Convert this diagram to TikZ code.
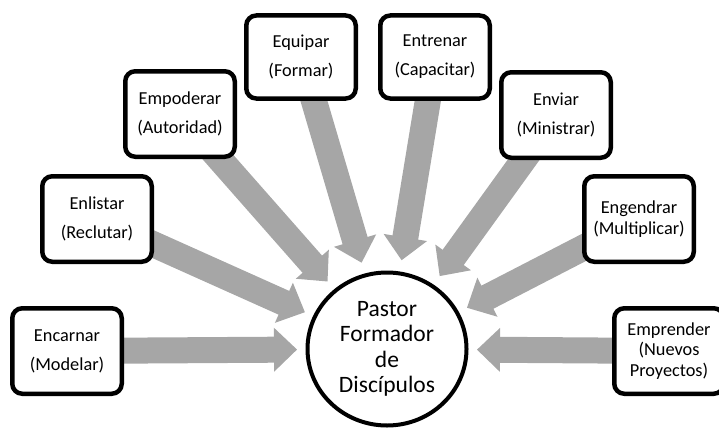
\documentclass[tikz,border=0pt]{standalone}
\usepackage{fontspec}
\setmainfont{Carlito}
\usetikzlibrary{calc,backgrounds,shapes.geometric}
\definecolor{arrowgray}{RGB}{166,166,166}
\tikzset{
  box/.style={draw=black, line width=4.5pt, rounded corners=10pt, fill=white,
    minimum width=109.5pt, minimum height=85.5pt, align=center, inner sep=2pt,
    font=\fontsize{18.3}{29}\selectfont},
  tight/.style={font=\fontsize{18.3}{20.5}\selectfont},
  hub/.style={ellipse, draw=black, line width=4pt, fill=white,
    minimum width=159pt, minimum height=153pt, align=center, inner sep=0pt,
    font=\fontsize{23.5}{25.5}\selectfont},
  shaft/.style={draw=arrowgray, line width=26pt},
  head/.style={fill=arrowgray},
}
\begin{document}
\begin{tikzpicture}[x=1pt,y=-1pt]
\useasboundingbox (0,0) rectangle (719,428);
\node[hub] (hub) at (387,349) {Pastor\\Formador\\de\\Discípulos};
\node[box] (enc) at (67,351) {Encarnar\\(Modelar)};
\node[box] (enl) at (97,219) {Enlistar\\(Reclutar)};
\node[box] (emp) at (180,114) {Empoderar\\(Autoridad)};
\node[box, minimum height=83pt] (equ) at (301,57) {Equipar\\(Formar)};
\node[box, minimum height=83pt] (ent) at (435,57) {Entrenar\\(Capacitar)};
\node[box] (env) at (556,115) {Enviar\\(Ministrar)};
\node[box, tight] (eng) at (639,219) {Engendrar\\(Multiplicar)};
\node[box, tight] (epr) at (669,351) {Emprender\\(Nuevos\\Proyectos)};
\begin{pgfonlayer}{background}
\foreach \b in {enc,enl,emp,equ,ent,env,eng,epr}{
  \coordinate (tip-\b) at ($(hub.center)!90pt!(\b.center)$);
  \coordinate (base-\b) at ($(hub.center)!113pt!(\b.center)$);
  \coordinate (sh-\b) at ($(hub.center)!112pt!(\b.center)$);
  \draw[shaft] (\b.center) -- (sh-\b);
  \fill[head] (tip-\b) -- ($(base-\b)!22pt!90:(hub.center)$) -- ($(base-\b)!22pt!-90:(hub.center)$) -- cycle;
}
\end{pgfonlayer}
\end{tikzpicture}
\end{document}
